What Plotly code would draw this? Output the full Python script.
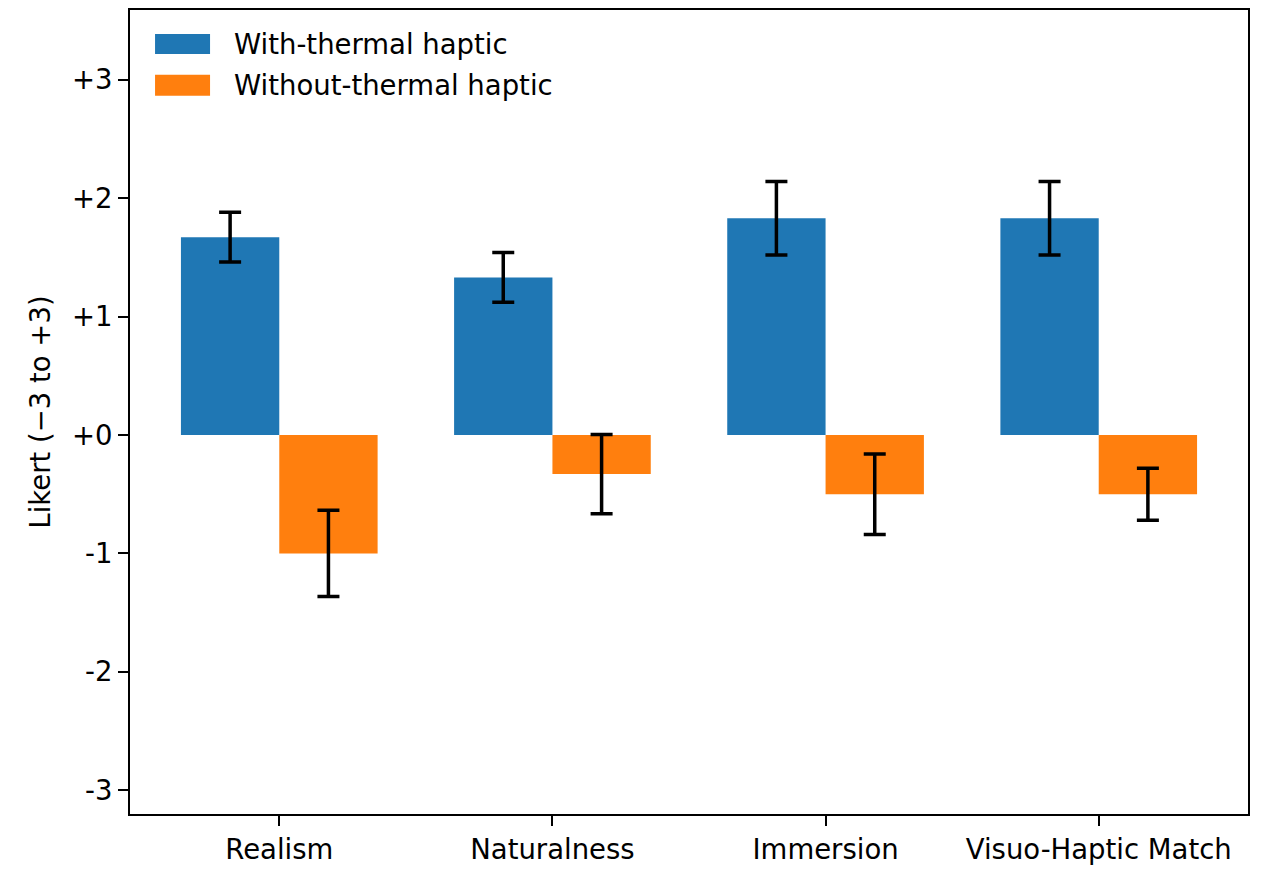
import plotly.graph_objects as go

categories = ["Realism", "Naturalness", "Immersion", "Visuo-Haptic Match"]
with_thermal = [1.67, 1.33, 1.83, 1.83]
with_thermal_err = [0.21, 0.21, 0.31, 0.31]
without_thermal = [-1.0, -0.33, -0.5, -0.5]
without_thermal_err = [0.365, 0.335, 0.34, 0.22]
ytick_vals = [-3, -2, -1, 0, 1, 2, 3]
ytick_text = ["-3", "-2", "-1", "+0", "+1", "+2", "+3"]
series_names = ["With-thermal haptic", "Without-thermal haptic"]
colors = ["#1f77b4", "#ff7f0e"]

w = 0.36
pos = list(range(len(categories)))
FONT = "DejaVu Sans"
FS = 27.5

fig = go.Figure()
fig.add_trace(go.Bar(
    x=[p - w / 2 for p in pos], y=with_thermal, width=w,
    name=series_names[0], marker=dict(color=colors[0], line=dict(width=0)),
    error_y=dict(type="data", array=with_thermal_err, color="black", thickness=3.5, width=11),
    showlegend=False,
))
fig.add_trace(go.Bar(
    x=[p + w / 2 for p in pos], y=without_thermal, width=w,
    name=series_names[1], marker=dict(color=colors[1], line=dict(width=0)),
    error_y=dict(type="data", array=without_thermal_err, color="black", thickness=3.5, width=11),
    showlegend=False,
))

# legend (patches + labels)
legend_rows = [(0.9454, 0.9702), (0.8933, 0.9194)]
for (y0, y1), name, col in zip(legend_rows, series_names, colors):
    fig.add_shape(type="rect", xref="paper", yref="paper",
                  x0=0.0224, x1=0.0716, y0=y0, y1=y1,
                  fillcolor=col, line=dict(width=0))
    fig.add_annotation(xref="paper", yref="paper", x=0.0912, y=(y0 + y1) / 2,
                       text=name, showarrow=False, xanchor="left", yanchor="middle",
                       font=dict(family=FONT, size=FS, color="black"))

fig.update_layout(
    width=1272, height=884,
    margin=dict(l=122, r=32, t=0, b=78, pad=0),
    paper_bgcolor="white", plot_bgcolor="white",
    barmode="overlay",
    font=dict(family=FONT, size=FS, color="black"),
    showlegend=False,
)
fig.update_xaxes(
    range=[-0.5465, 3.5465], tickmode="array", tickvals=pos, ticktext=categories,
    ticks="outside", ticklen=10, tickwidth=2, tickcolor="black",
    showline=True, linewidth=2, linecolor="black", mirror=True,
    showgrid=False, zeroline=False,
)
fig.update_yaxes(
    range=[-3.201, 3.589], tickmode="array", tickvals=ytick_vals, ticktext=ytick_text,
    ticks="outside", ticklen=10, tickwidth=2, tickcolor="black",
    showline=True, linewidth=2, linecolor="black", mirror=True,
    showgrid=False, zeroline=False,
    title=dict(text="Likert (−3 to +3)", standoff=13, font=dict(size=FS)),
)

fig.write_html("out.html")
